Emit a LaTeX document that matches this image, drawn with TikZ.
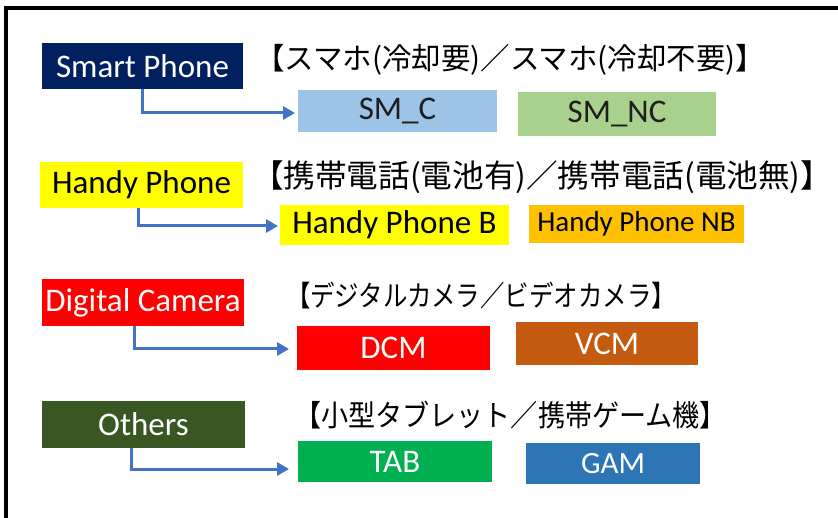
\documentclass[tikz,border=0pt]{standalone}
\usepackage{fontspec}
\usepackage{graphicx}
\setmainfont{Carlito}
\newfontfamily\jp{Noto Sans CJK JP}
\usetikzlibrary{arrows.meta}
\definecolor{navy}{HTML}{002060}
\definecolor{yel}{HTML}{FFFF00}
\definecolor{redc}{HTML}{FF0000}
\definecolor{dgreen}{HTML}{385723}
\definecolor{lblue}{HTML}{9DC3E6}
\definecolor{lgreen}{HTML}{A9D18E}
\definecolor{orng}{HTML}{FFC000}
\definecolor{brwn}{HTML}{C55A11}
\definecolor{grn}{HTML}{00B050}
\definecolor{blu}{HTML}{2E75B6}
\definecolor{arrowc}{HTML}{4472C4}
\definecolor{dtext}{HTML}{1E1E1E}
\tikzset{
  box/.style={inner sep=0pt, outer sep=0pt, align=center, font=\fontsize{33}{37}\selectfont},
  jptext/.style={anchor=west, inner sep=0pt, outer sep=0pt, text=black},
  conn/.style={draw=arrowc, line width=3pt, -{Triangle[length=12pt,width=13pt]}}
}
\begin{document}
\begin{tikzpicture}[x=1pt,y=-1pt]
\useasboundingbox (0,0) rectangle (838,518);
\fill[white] (0,0) rectangle (838,518);
\draw[line width=4pt] (5.5,518) coordinate (fa) -- (5.5,8.5) coordinate (fb) -- (838,8.5) coordinate (fc);

% row 1
\node[box, fill=navy, text=white, minimum width=201pt, minimum height=46pt] (sp) at (142.5,66) {Smart Phone};
\node[jptext] (j1) at (255,60) {\resizebox*{510pt}{31pt}{\jp 【スマホ(冷却要)／スマホ(冷却不要)】}};
\node[box, fill=lblue, text=dtext, minimum width=199pt, minimum height=42pt] (smc) at (397.5,111) {SM\_C};
\node[box, fill=lgreen, text=dtext, minimum width=198pt, minimum height=44pt] (smnc) at (617,114.5) {SM\_NC};
\draw[conn, shorten >=3pt] ([xshift=-0.5pt]sp.south) |- ([yshift=-2pt]smc.west);

% row 2
\node[box, fill=yel, text=black, minimum width=203pt, minimum height=46pt] (hp) at (141.5,185) {Handy Phone};
\node[jptext] (j2) at (252,177) {\resizebox*{566pt}{33pt}{\jp 【携帯電話(電池有)／携帯電話(電池無)】\kern-0.45em}};
\node[box, fill=yel, text=black, minimum width=229pt, minimum height=40pt] (hpb) at (394.5,225) {Handy Phone B};
\node[box, fill=orng, text=black, minimum width=215pt, minimum height=38pt, font=\fontsize{29}{33}\selectfont] (hpnb) at (636.5,224) {Handy Phone NB};
\draw[conn, shorten >=2pt] ([xshift=-3.5pt]hp.south) |- ([yshift=-1pt]hpb.west);

% row 3
\node[box, fill=redc, text=white, minimum width=202pt, minimum height=47pt] (dc) at (143,302.5) {Digital Camera};
\node[jptext] (j3) at (286,295) {\resizebox*{390pt}{27pt}{\jp 【デジタルカメラ／ビデオカメラ】}};
\node[box, fill=redc, text=white, minimum width=193pt, minimum height=44pt] (dcm) at (393.5,348) {DCM};
\node[box, fill=brwn, text=white, minimum width=182pt, minimum height=43pt] (vcm) at (607,344) {VCM};
\draw[conn, shorten >=8pt] ([xshift=-9pt]dc.south) |- ([yshift=-1pt]dcm.west);

% row 4
\node[box, fill=dgreen, text=white, minimum width=203pt, minimum height=47pt] (oth) at (143.5,424.5) {Others};
\node[jptext] (j4) at (294,415) {\resizebox*{433pt}{28pt}{\jp 【小型タブレット／携帯ゲーム機】}};
\node[box, fill=grn, text=white, minimum width=194pt, minimum height=41pt] (tab) at (395,461.5) {TAB};
\node[box, fill=blu, text=white, minimum width=174pt, minimum height=41pt, font=\fontsize{31}{35}\selectfont] (gam) at (613,463.5) {GAM};
\draw[conn, shorten >=9pt] ([xshift=-12.5pt]oth.south) |- ([yshift=-7.5pt]tab.west);
\end{tikzpicture}
\end{document}
